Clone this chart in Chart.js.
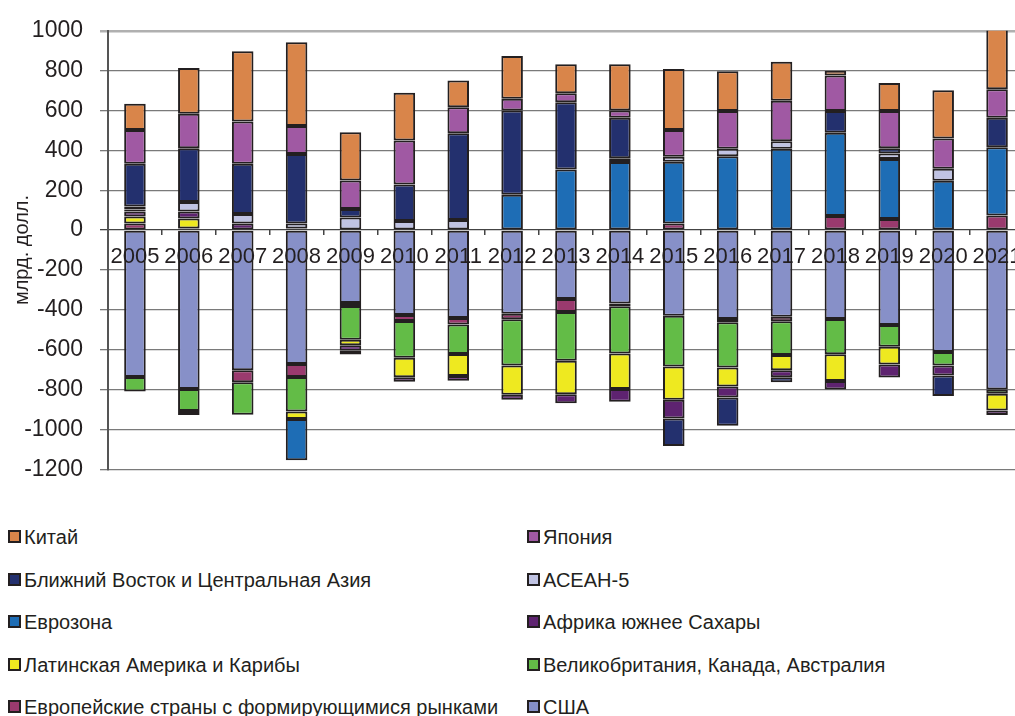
<!DOCTYPE html>
<html>
<head>
<meta charset="utf-8">
<script src="https://cdn.jsdelivr.net/npm/chart.js@4.4.1/dist/chart.umd.min.js"></script>
<style>
  html, body { margin: 0; padding: 0; background: #fff; overflow: hidden; width: 1015px; height: 716px; }
  #wrap { position: absolute; left: 0; top: 0; width: 1035px; height: 500px; }
  .legend-item { position: absolute; font-family: "Liberation Sans", Arial, sans-serif; font-size: 20px; color: #231f20; white-space: nowrap; line-height: 22px; }
  .legend-item i { display: inline-block; width: 9px; height: 9px; border: 2px solid #231f20; margin-right: 3px; vertical-align: 1px; }
</style>
</head>
<body>
<div id="wrap"><canvas id="chart"></canvas></div>
<div id="legend"></div>
<script>
const years = ['2005','2006','2007','2008','2009','2010','2011','2012','2013','2014','2015','2016','2017','2018','2019','2020','2021'];
const yTicks = [1000, 800, 600, 400, 200, 0, -200, -400, -600, -800, -1000, -1200];

// stacking order from zero outward
const usa       = [-737,-798,-704,-672,-366,-426,-441,-420,-346,-368,-430,-446,-435,-446,-476,-612,-800];
const emEurope  = [33, 8, -60, -65, -15, -30, -33, -27, -65, -14, 33, -17, -22, 70, 55, 0, 73];
const ukCanAus  = [-73,-110,-163,-174,-169,-185,-148,-233,-245,-238,-255,-227,-170,-177,-110,-68,-22];
const latAm     = [35, 50, 0, -37, -28, -98, -110, -146, -168, -178, -167, -95, -77, -135, -88, 0, -83];
const africa    = [25, 35, 33, 8, -27, -22, -24, -26, -45, -63, -93, -55, -34, -42, -66, -50, -23];
const eurozone  = [10, -20, 0, -207, -20, 0, 0, 177, 304, 342, 310, 371, 408, 419, 302, 248, 342];
const asean5    = [15, 48, 48, 25, 63, 45, 50, 0, 0, 19, 25, 37, 38, 0, 27, 60, 0];
const midEast   = [215, 270, 252, 349, 43, 184, 436, 423, 337, 203, -138, -142, -26, 108, 26, -103, 149];
const japan     = [169, 173, 212, 140, 143, 221, 130, 59, 45, 36, 134, 189, 203, 179, 187, 151, 143];
const china     = [132, 229, 353, 421, 242, 239, 135, 214, 146, 232, 306, 200, 196, 24, 141, 243, 330];

const series = [
  { label: 'США', data: usa, color: '#8790c8' },
  { label: 'Европейские страны с формирующимися рынками', data: emEurope, color: '#9a3a6e' },
  { label: 'Великобритания, Канада, Австралия', data: ukCanAus, color: '#63bc47' },
  { label: 'Латинская Америка и Карибы', data: latAm, color: '#eee920' },
  { label: 'Африка южнее Сахары', data: africa, color: '#5e2370' },
  { label: 'Еврозона', data: eurozone, color: '#1e6db5' },
  { label: 'АСЕАН-5', data: asean5, color: '#c0c3e3' },
  { label: 'Ближний Восток и Центральная Азия', data: midEast, color: '#23306e' },
  { label: 'Япония', data: japan, color: '#a059a3' },
  { label: 'Китай', data: china, color: '#d9854a' }
];

const datasets = series.map(s => ({
  label: s.label,
  data: s.data,
  backgroundColor: s.color,
  borderColor: '#231f20',
  borderWidth: 2,
  borderSkipped: false,
  categoryPercentage: 1,
  barPercentage: 0.40
}));

const tickFont = { family: '"Liberation Sans", Arial, sans-serif', size: 23 };

new Chart(document.getElementById('chart'), {
  type: 'bar',
  data: { labels: years, datasets: datasets },
  options: {
    responsive: true,
    maintainAspectRatio: false,
    animation: false,
    layout: { padding: { top: 24, bottom: 25, right: 11, left: 0 } },
    plugins: { legend: { display: false }, tooltip: { enabled: false } },
    scales: {
      x: {
        stacked: true,
        position: { y: 0 },
        offset: true,
        grid: { display: true, drawOnChartArea: false, drawTicks: true, tickLength: 5, offset: true, color: '#444', lineWidth: 1.5 },
        border: { display: false },
        ticks: {
          z: 1,
          padding: 9,
          maxRotation: 0,
          autoSkip: false,
          color: '#231f20',
          font: { family: '"Liberation Sans", Arial, sans-serif', size: 22 }
        }
      },
      y: {
        stacked: true,
        min: -1200,
        max: 1000,
        afterFit: scale => { scale.width = 108; },
        afterBuildTicks: scale => { scale.ticks = yTicks.map(v => ({ value: v })); },
        grid: {
          tickLength: 8,
          color: ctx => ctx.tick && ctx.tick.value === 1000 ? '#b0b0b0' : (ctx.tick && ctx.tick.value === 0 ? '#444' : '#7a7a7a'),
          lineWidth: ctx => ctx.tick && ctx.tick.value === 1000 ? 2.5 : 1.3
        },
        border: { color: '#555', width: 2 },
        ticks: {
          padding: 17,
          color: '#231f20',
          font: tickFont,
          callback: v => String(v)
        },
        title: {
          display: true,
          text: 'млрд. долл.',
          color: '#231f20',
          padding: { top: 10, bottom: 0 },
          font: { family: '"Liberation Sans", Arial, sans-serif', size: 20 }
        }
      }
    }
  }
});

// legend: two columns, read in reverse stacking order
const legendOrder = series.slice().reverse();
const legendEl = document.getElementById('legend');
const rowTops = [526, 569, 611, 654, 696];
legendOrder.forEach((s, i) => {
  const div = document.createElement('div');
  div.className = 'legend-item';
  div.style.left = (i % 2 === 0 ? 8 : 527) + 'px';
  div.style.top = rowTops[Math.floor(i / 2)] + 'px';
  div.innerHTML = '<i style="background:' + s.color + '"></i>' + s.label;
  legendEl.appendChild(div);
});
</script>
</body>
</html>
